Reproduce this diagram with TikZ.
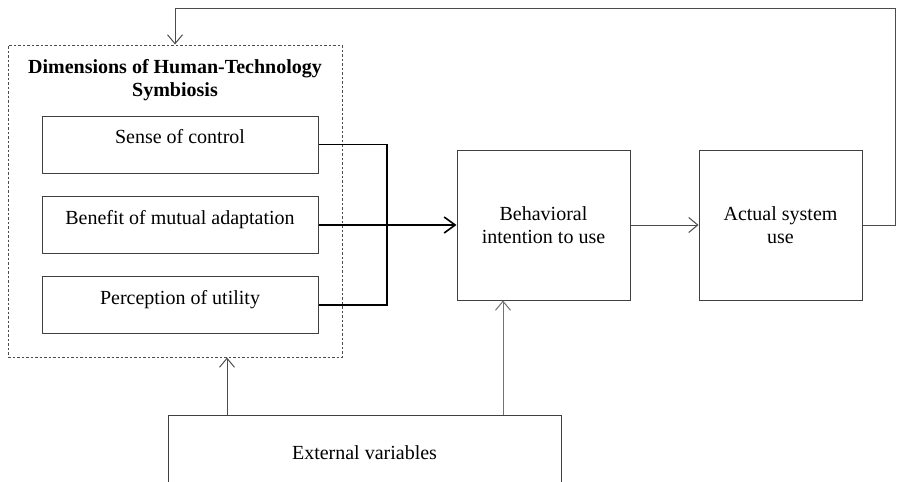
\documentclass[tikz,border=0pt]{standalone}
\usepackage{fontspec}
\setmainfont{Liberation Serif}
\usetikzlibrary{positioning, arrows.meta}

\tikzset{
  txt/.style={font=\fontsize{20}{23.5}\selectfont, align=center, inner sep=0pt},
  box/.style={txt, draw=black!75, line width=1pt},
  dimbox/.style={box, minimum width=276pt, minimum height=57pt, text height=14pt, text depth=16pt},
  bigbox/.style={box, minimum height=150pt},
  link/.style={draw=black!70, line width=1pt},
  barb/.style={-{Straight Barb[length=9pt,width=15pt,line width=1pt]}},
}

\begin{document}
\begin{tikzpicture}[x=1pt, y=-1pt]
  \clip (0,0) rectangle (898,482);
  % frame of the three dimensions
  \node[draw=black!70, line width=1pt, dash pattern=on 2.5pt off 2pt,
        minimum width=334pt, minimum height=312pt] (dims) at (175,201) {};
  \node[txt, font=\fontsize{20}{23.5}\selectfont\bfseries] (title) at (175,80)
       {Dimensions of Human-Technology\\Symbiosis};
  \node[dimbox] (sense) at (180,144.5) {Sense of control};
  \node[dimbox] (benefit) at (180,225) {Benefit of mutual adaptation};
  \node[dimbox] (percep) at (180,305) {Perception of utility};
  % model boxes
  \node[bigbox, minimum width=173pt] (behav) at (543.5,225) {Behavioral\\intention to use};
  \node[bigbox, minimum width=163pt] (actual) at (780.5,225) {Actual system\\use};
  \node[box, minimum width=393pt, minimum height=76pt] (ext) at (364.5,453) {External variables};
  \coordinate (join) at (387,225);
  \coordinate (back) at (895.5,8);
  % connectors
  \draw[line width=1.6pt] (sense.east) -| (join) |- (percep.east);
  \draw[line width=1.6pt, -{Straight Barb[length=11pt,width=16pt,line width=1.6pt]}] (benefit.east) -- (behav.west);
  \draw[link, barb] (behav.east) -- (actual.west);
  \draw[link, barb] (actual.east) -| (back) -| (dims.north);
  \draw[link, barb] (ext.north -| 227,0) -- (dims.south -| 227,0);
  \draw[link, draw=black!55, barb] (ext.north -| 503,0) -- (behav.south -| 503,0);
\end{tikzpicture}
\end{document}
